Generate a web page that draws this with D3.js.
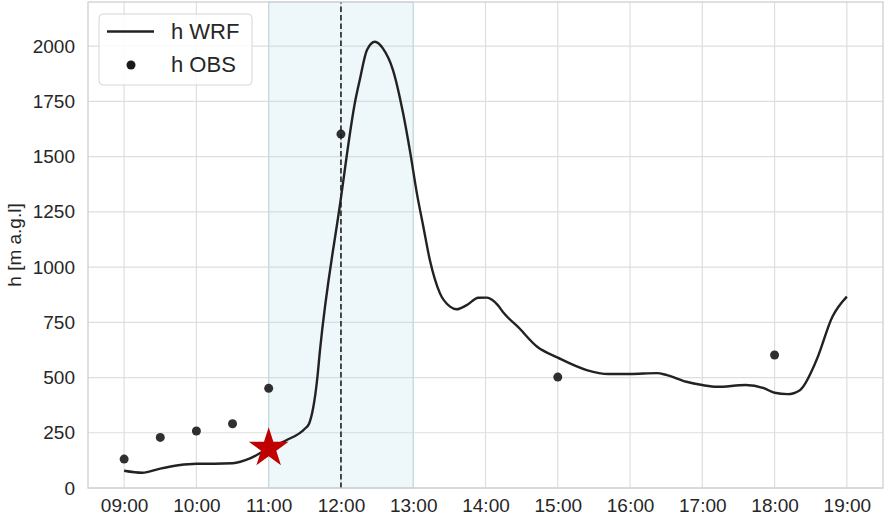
<html>
  <head>
    <meta charset="utf-8">
    <title>h WRF vs h OBS</title>
  </head>
  <body style="margin:0;background:#fff">
    <script src="https://d3js.org/d3.v7.min.js"></script>
    <style>
      text { font-family: 'Liberation Sans', Arial, sans-serif; fill: #262626; }
    </style>
    <script>
      // WRF model boundary layer height (hours of day, m a.g.l)
      var wrfTime = [9.0, 9.25, 9.5, 9.75, 10.0, 10.25, 10.5, 10.75, 11.0, 11.25, 11.5, 11.56,
                     11.67, 11.71, 11.99, 12.2, 12.26, 12.36, 12.47, 12.58, 12.72, 12.86, 12.96,
                     13.05, 13.14, 13.23, 13.37, 13.51, 13.6, 13.74, 13.9, 14.02, 14.09, 14.17,
                     14.25, 14.45, 14.72, 15.0, 15.4, 15.7, 16.0, 16.37, 16.51, 16.78, 17.0,
                     17.2, 17.6, 17.85, 18.0, 18.18, 18.35, 18.58, 18.8, 19.0];
      var wrfH = [78, 69, 88, 103, 110, 110, 112, 135, 180, 217, 268, 292,
                  489, 624, 1290, 1756, 1847, 1983, 2020, 1990, 1892, 1696, 1516,
                  1335, 1183, 1032, 881, 821, 809, 828, 861, 862, 852, 828,
                  793, 729, 638, 590, 534, 516, 516, 520, 511, 481, 466,
                  458, 466, 452, 431, 425, 443, 579, 775, 866];

      // observations
      var obsTime = [9.0, 9.5, 10.0, 10.5, 11.0, 12.0, 15.0, 18.0];
      var obsH = [131, 229, 258, 291, 451, 1602, 502, 602];

      // star marker
      var starTime = [11.0];
      var starH = [180];

      var xTicks = [9, 10, 11, 12, 13, 14, 15, 16, 17, 18, 19];
      var xTickLabels = ["09:00", "10:00", "11:00", "12:00", "13:00", "14:00", "15:00",
                         "16:00", "17:00", "18:00", "19:00"];
      var yTicks = [0, 250, 500, 750, 1000, 1250, 1500, 1750, 2000];
      var shadeSpan = [11, 13];
      var markTime = 12;

      var width = 884, height = 522;
      var margin = {top: 2, right: 1, bottom: 34, left: 88};

      var svg = d3.select("body").append("svg")
        .attr("width", width)
        .attr("height", height);

      var x = d3.scaleLinear().domain([8.5, 19.5]).range([margin.left, width - margin.right]);
      var y = d3.scaleLinear().domain([0, 2200]).range([height - margin.bottom, margin.top]);

      // grid
      svg.append("g").selectAll("line").data(xTicks).enter().append("line")
        .attr("x1", d => x(d)).attr("x2", d => x(d))
        .attr("y1", y(0)).attr("y2", y(2200))
        .attr("stroke", "#dedede").attr("stroke-width", 1.2);
      svg.append("g").selectAll("line").data(yTicks).enter().append("line")
        .attr("x1", x(8.5)).attr("x2", x(19.5))
        .attr("y1", d => y(d)).attr("y2", d => y(d))
        .attr("stroke", "#dedede").attr("stroke-width", 1.2);

      // shaded window
      svg.append("rect")
        .attr("x", x(shadeSpan[0])).attr("width", x(shadeSpan[1]) - x(shadeSpan[0]))
        .attr("y", y(2200)).attr("height", y(0) - y(2200))
        .attr("fill", "#b0dbe6").attr("fill-opacity", 0.22)
        .attr("stroke", "#c3d8e0").attr("stroke-width", 1);

      // dashed vertical line
      svg.append("line")
        .attr("x1", x(markTime)).attr("x2", x(markTime))
        .attr("y1", y(0)).attr("y2", y(2200))
        .attr("stroke", "#222").attr("stroke-width", 1.6)
        .attr("stroke-dasharray", "5.5,3");

      // spines
      svg.append("rect")
        .attr("x", x(8.5)).attr("y", y(2200))
        .attr("width", x(19.5) - x(8.5)).attr("height", y(0) - y(2200))
        .attr("fill", "none").attr("stroke", "#d0d0d0").attr("stroke-width", 1.3);

      // axes
      var xAxis = d3.axisBottom(x).tickValues(xTicks).tickSize(0).tickPadding(11)
        .tickFormat((d, i) => xTickLabels[i]);
      var gx = svg.append("g").attr("transform", "translate(0," + y(0) + ")").call(xAxis);
      gx.select(".domain").remove();
      gx.selectAll("text").style("font-size", "19px").style("font-family", "'Liberation Sans', Arial, sans-serif").attr("fill", "#262626");

      var yAxis = d3.axisLeft(y).tickValues(yTicks).tickSize(0).tickPadding(13).tickFormat(d3.format("d"));
      var gy = svg.append("g").attr("transform", "translate(" + x(8.5) + ",0)").call(yAxis);
      gy.select(".domain").remove();
      gy.selectAll("text").style("font-size", "19px").style("font-family", "'Liberation Sans', Arial, sans-serif").attr("fill", "#262626");

      svg.append("text")
        .attr("transform", "translate(21," + ((y(0) + y(2200)) / 2) + ") rotate(-90)")
        .attr("text-anchor", "middle")
        .style("font-size", "19px")
        .text("h [m a.g.l]");

      // WRF line
      var line = d3.line()
        .x((d, i) => x(wrfTime[i]))
        .y(d => y(d))
        .curve(d3.curveMonotoneX);
      svg.append("path")
        .datum(wrfH)
        .attr("d", line)
        .attr("fill", "none")
        .attr("stroke", "#222")
        .attr("stroke-width", 2.4);

      // OBS points
      svg.append("g").selectAll("circle").data(obsH).enter().append("circle")
        .attr("cx", (d, i) => x(obsTime[i]))
        .attr("cy", d => y(d))
        .attr("r", 4.5)
        .attr("fill", "#1a1a1a")
        .attr("fill-opacity", 0.9);

      // star
      svg.append("g").selectAll("path").data(starH).enter().append("path")
        .attr("d", d3.symbol().type(d3.symbolStar).size(490))
        .attr("transform", (d, i) => "translate(" + x(starTime[i]) + "," + y(d) + ")")
        .attr("fill", "#c00000");

      // legend
      var lg = svg.append("g");
      lg.append("rect")
        .attr("x", 99).attr("y", 14).attr("width", 153).attr("height", 71)
        .attr("rx", 4).attr("fill", "#fff").attr("fill-opacity", 0.85)
        .attr("stroke", "#d6d6d6");
      lg.append("line")
        .attr("x1", 107).attr("x2", 154).attr("y1", 31.5).attr("y2", 31.5)
        .attr("stroke", "#222").attr("stroke-width", 2.4);
      lg.append("circle").attr("cx", 131).attr("cy", 65).attr("r", 4.5).attr("fill", "#1a1a1a");
      lg.append("text").attr("x", 171).attr("y", 39).style("font-size", "22px").text("h WRF");
      lg.append("text").attr("x", 171).attr("y", 72).style("font-size", "22px").text("h OBS");
    </script>
  </body>
</html>
